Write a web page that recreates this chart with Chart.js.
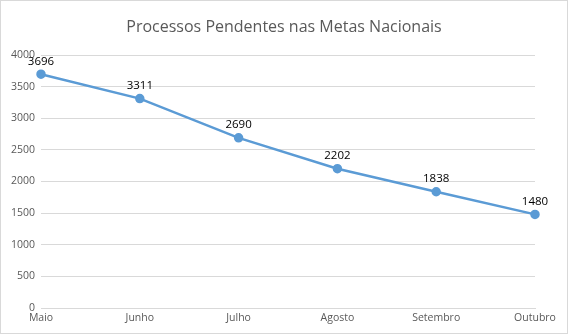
<!DOCTYPE html>
<html>
<head>
<meta charset="utf-8">
<script src="https://cdn.jsdelivr.net/npm/chart.js@4/dist/chart.umd.min.js"></script>
<style>
  body { margin: 0; background: #fff; }
  #wrap { width: 568px; height: 334px; position: relative; }
</style>
</head>
<body>
<div id="wrap"><canvas id="metasChart" width="568" height="334"></canvas></div>
<script>
const chartTitle = "Processos Pendentes nas Metas Nacionais";
const months = ["Maio", "Junho", "Julho", "Agosto", "Setembro", "Outubro"];
const pendentes = [3696, 3311, 2690, 2202, 1838, 1480];
const yTicks = [0, 500, 1000, 1500, 2000, 2500, 3000, 3500, 4000];

const axisFont = { family: "'Open Sans', sans-serif", size: 10.5 };

// frame + title, drawn like the Excel chart
const frame = {
  id: "frame",
  beforeDraw(chart) {
    const ctx = chart.ctx;
    ctx.save();
    ctx.fillStyle = "#fff";
    ctx.fillRect(0, 0, chart.width, chart.height);
    ctx.strokeStyle = "#d9d9d9";
    ctx.lineWidth = 1;
    ctx.strokeRect(0.5, 0.5, chart.width - 1, chart.height - 1);
    ctx.font = "16px 'Open Sans', sans-serif";
    ctx.fillStyle = "#595959";
    ctx.textAlign = "center";
    ctx.textBaseline = "middle";
    ctx.fillText(chartTitle, chart.width / 2, 27);
    ctx.restore();
  },
};

// value labels above each point
const valueLabels = {
  id: "valueLabels",
  afterDatasetsDraw(chart) {
    const ctx = chart.ctx;
    const meta = chart.getDatasetMeta(0);
    ctx.save();
    ctx.font = "11.5px 'Open Sans', sans-serif";
    ctx.fillStyle = "#000";
    ctx.textAlign = "center";
    ctx.textBaseline = "middle";
    meta.data.forEach((pt, i) => {
      ctx.fillText(String(pendentes[i]), pt.x, pt.y - 13);
    });
    ctx.restore();
  },
};

new Chart(document.getElementById("metasChart"), {
  type: "line",
  data: {
    labels: months,
    datasets: [
      {
        label: "Processos Pendentes",
        data: pendentes,
        borderColor: "#5b9bd5",
        backgroundColor: "#5b9bd5",
        borderWidth: 2.5,
        tension: 0,
        pointRadius: 3.5,
        pointBackgroundColor: "#5b9bd5",
        pointBorderColor: "#5b9bd5",
      },
    ],
  },
  options: {
    responsive: false,
    animation: false,
    layout: { padding: { left: 0, right: 33, top: 55, bottom: 0 } },
    plugins: {
      legend: { display: false },
      tooltip: { enabled: false },
      title: { display: false },
    },
    scales: {
      x: {
        offset: false,
        grid: { display: false, drawTicks: false },
        border: { color: "#d9d9d9" },
        ticks: { color: "#595959", font: axisFont, padding: 4, maxRotation: 0, autoSkip: false },
        afterFit(scale) { scale.height = 26; },
      },
      y: {
        min: 0,
        max: 4000,
        afterBuildTicks(scale) { scale.ticks = yTicks.map((v) => ({ value: v })); },
        grid: { color: "#d9d9d9", drawTicks: false },
        border: { display: false },
        ticks: {
          color: "#595959",
          font: axisFont,
          padding: 6,
          callback: (v) => String(v),
        },
        afterFit(scale) { scale.width = 41; },
      },
    },
  },
  plugins: [frame, valueLabels],
});
</script>
</body>
</html>
